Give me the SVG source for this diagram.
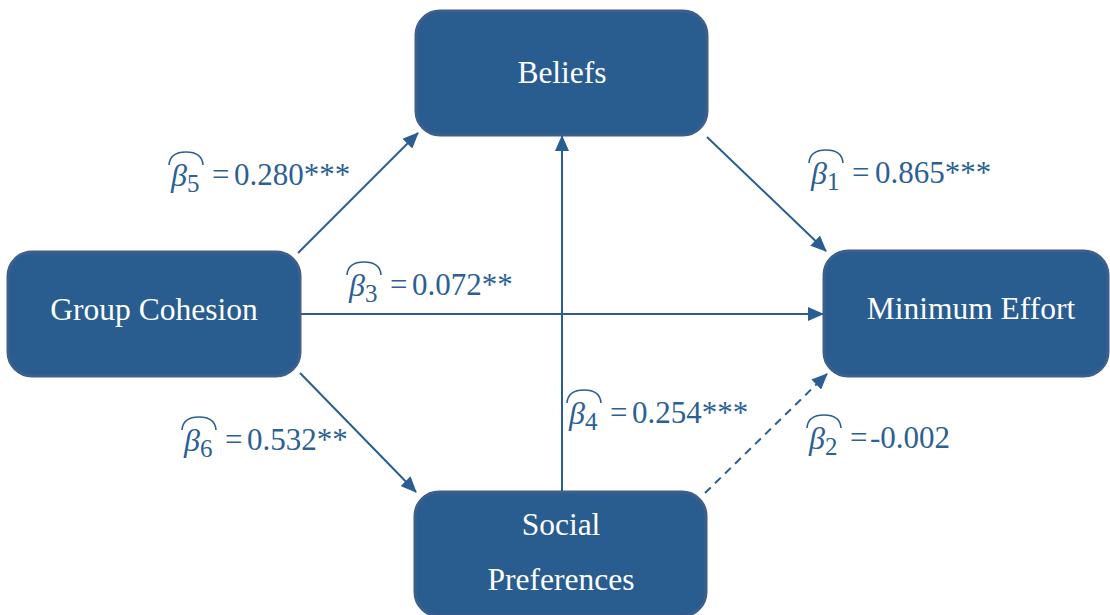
<svg xmlns="http://www.w3.org/2000/svg" width="1110" height="615" viewBox="0 0 1110 615">
<style>
.box{fill:#295D8F;stroke:#3E5F8B;stroke-width:3}
.nt{font-size:31.5px;fill:#FFFFFF;text-anchor:middle}
.ln{stroke:#2A5E93;stroke-width:2;fill:none}
.lb{font-size:31px;fill:#2C5F94}
.beta{font-size:32px;font-style:italic;fill:#2C5F94}
.sub{font-size:25px;fill:#2C5F94}
.hat{stroke:#2C5F94;stroke-width:1.6;fill:none}
</style>
<defs>
<marker id="ah" markerUnits="userSpaceOnUse" markerWidth="16" markerHeight="14" refX="15" refY="7" orient="auto">
<path d="M0,0 L16,7 L0,14 Z" fill="#2A5E93"/>
</marker>
</defs>
<g id="connectors">
<line class="ln" x1="298" y1="253" x2="418" y2="133" marker-end="url(#ah)"/>
<line class="ln" x1="707" y1="137" x2="826" y2="251" marker-end="url(#ah)"/>
<line class="ln" x1="300" y1="314" x2="823" y2="314" marker-end="url(#ah)"/>
<line class="ln" x1="562" y1="492" x2="562" y2="136" marker-end="url(#ah)"/>
<line class="ln" x1="300" y1="373" x2="416" y2="492" marker-end="url(#ah)"/>
<line class="ln" x1="705" y1="493" x2="827" y2="374" stroke-dasharray="8,6" marker-end="url(#ah)"/>
</g>
<g font-family="Liberation Serif, Times New Roman, Tinos, Noto Serif, DejaVu Serif, serif">
<g id="beliefs">
<rect class="box" x="416" y="11" width="291" height="124" rx="24"/>
<text class="nt" x="562" y="83">Beliefs</text>
</g>
<g id="group-cohesion">
<rect class="box" x="8" y="252" width="292" height="124" rx="24"/>
<text class="nt" x="154" y="320">Group Cohesion</text>
</g>
<g id="minimum-effort">
<rect class="box" x="824" y="251" width="284" height="125" rx="24"/>
<text class="nt" x="971" y="319">Minimum Effort</text>
</g>
<g id="social-preferences">
<rect class="box" x="415" y="492" width="291" height="124" rx="24"/>
<text class="nt" x="561" y="535">Social</text>
<text class="nt" x="561" y="590">Preferences</text>
</g>
<g id="labels">
<g id="l5">
<path class="hat" d="M169,165 Q170,152 186,152 Q202,152 203,165"/>
<text class="beta" x="171" y="186">β</text><text class="sub" x="187" y="192">5</text>
<text class="lb" x="212" y="185">=</text><text class="lb" x="234" y="185">0.280***</text>
</g>
<g id="l1">
<path class="hat" d="M809,163 Q810,150 826,150 Q842,150 843,163"/>
<text class="beta" x="811" y="184">β</text><text class="sub" x="827" y="190">1</text>
<text class="lb" x="852" y="183">=</text><text class="lb" x="875" y="183">0.865***</text>
</g>
<g id="l3">
<path class="hat" d="M347,275 Q348,262 364,262 Q380,262 381,275"/>
<text class="beta" x="349" y="296">β</text><text class="sub" x="365" y="302">3</text>
<text class="lb" x="390" y="295">=</text><text class="lb" x="412" y="295">0.072**</text>
</g>
<g id="l4">
<path class="hat" d="M567,403 Q568,390 584,390 Q600,390 601,403"/>
<text class="beta" x="569" y="424">β</text><text class="sub" x="585" y="430">4</text>
<text class="lb" x="610" y="423">=</text><text class="lb" x="632" y="423">0.254***</text>
</g>
<g id="l6">
<path class="hat" d="M182,430 Q183,417 199,417 Q215,417 216,430"/>
<text class="beta" x="184" y="451">β</text><text class="sub" x="200" y="457">6</text>
<text class="lb" x="225" y="450">=</text><text class="lb" x="247" y="450">0.532**</text>
</g>
<g id="l2">
<path class="hat" d="M807,428 Q808,415 824,415 Q840,415 841,428"/>
<text class="beta" x="809" y="449">β</text><text class="sub" x="825" y="455">2</text>
<text class="lb" x="850" y="448">=</text><text class="lb" x="870" y="448">-0.002</text>
</g>
</g>
</g>
</svg>
